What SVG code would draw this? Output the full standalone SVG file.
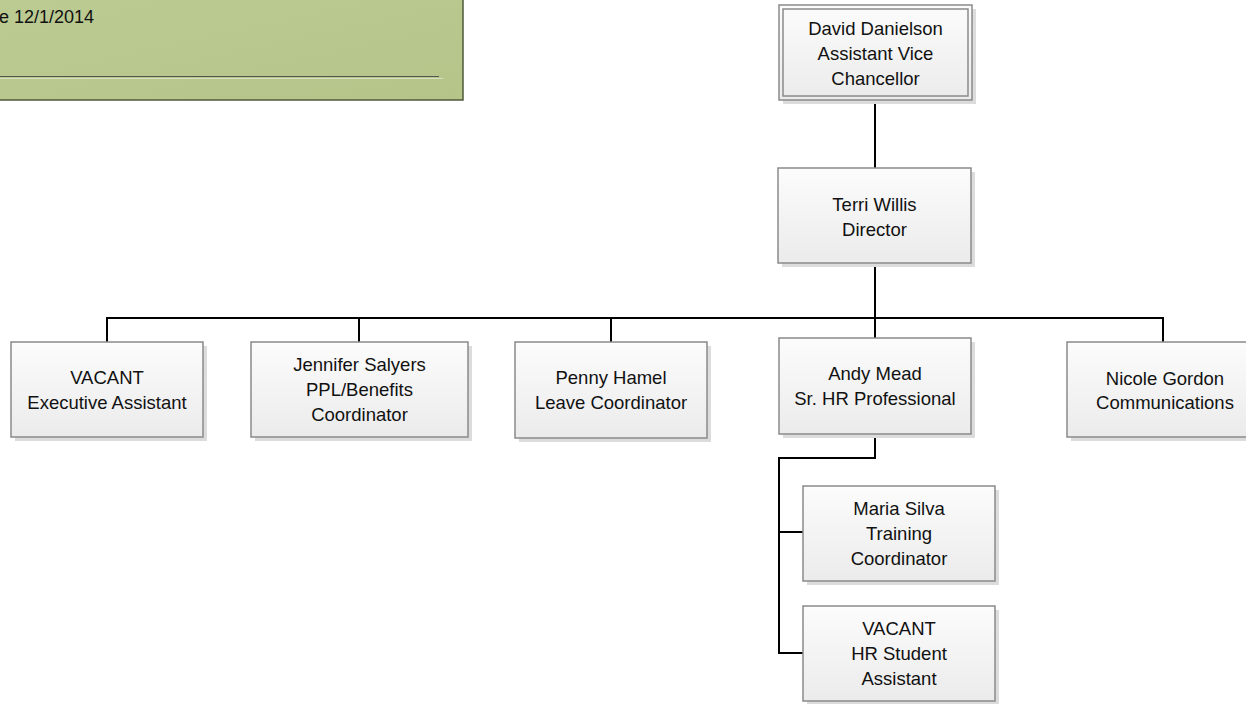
<svg xmlns="http://www.w3.org/2000/svg" width="1246" height="704" viewBox="0 0 1246 704">
<defs>
<linearGradient id="boxg" x1="0" y1="0" x2="0" y2="1">
<stop offset="0" stop-color="#fcfcfc"/>
<stop offset="1" stop-color="#ebebeb"/>
</linearGradient>
<linearGradient id="greeng" x1="0" y1="0" x2="1" y2="1">
<stop offset="0" stop-color="#bccb92"/>
<stop offset="1" stop-color="#b5c489"/>
</linearGradient>
</defs>
<style>
.box{fill:url(#boxg);stroke:#8a8a8a;stroke-width:1.5}
.shadow{fill:#dcdcdc}
.t{font-family:"Liberation Sans",Arial,sans-serif;font-size:18.5px;fill:#111;text-anchor:middle}
.c{fill:none;stroke:#000;stroke-width:2}
</style>
<rect width="1246" height="704" fill="#ffffff"/>
<g id="header">
<rect x="-2" y="-2" width="465" height="102" fill="url(#greeng)" stroke="#4f5a3a" stroke-width="1.5"/>
<line x1="0" y1="76.5" x2="439" y2="76.5" stroke="#555" stroke-width="1"/>
<line x1="0" y1="78.5" x2="443" y2="78.5" stroke="#d6dfbb" stroke-width="1"/>
<text x="-1" y="23" style="font-family:'Liberation Sans',Arial,sans-serif;font-size:18px;fill:#111">e 12/1/2014</text>
</g>
<g id="connectors">
<line class="c" x1="875" y1="100" x2="875" y2="168"/>
<line class="c" x1="875" y1="263" x2="875" y2="338"/>
<polyline class="c" points="107,342 107,318 1163,318 1163,342"/>
<line class="c" x1="359" y1="318" x2="359" y2="342"/>
<line class="c" x1="611" y1="318" x2="611" y2="342"/>
<polyline class="c" points="875,434 875,458 779,458 779,653 803,653"/>
<line class="c" x1="779" y1="532" x2="803" y2="532"/>
</g>
<g id="david">
<rect class="shadow" x="783" y="9" width="193" height="95"/>
<rect class="box" x="779" y="5" width="193" height="95"/>
<rect x="783" y="9" width="185" height="87" fill="none" stroke="#8a8a8a" stroke-width="1.5"/>
<text class="t" x="875.5" y="35">David Danielson</text>
<text class="t" x="875.5" y="60">Assistant Vice</text>
<text class="t" x="875.5" y="85">Chancellor</text>
</g>
<g id="terri">
<rect class="shadow" x="782" y="172" width="193" height="95"/>
<rect class="box" x="778" y="168" width="193" height="95"/>
<text class="t" x="874.5" y="211">Terri Willis</text>
<text class="t" x="874.5" y="236">Director</text>
</g>
<g id="vacant-exec">
<rect class="shadow" x="15" y="346" width="192" height="95"/>
<rect class="box" x="11" y="342" width="192" height="95"/>
<text class="t" x="107" y="384">VACANT</text>
<text class="t" x="107" y="409">Executive Assistant</text>
</g>
<g id="jennifer">
<rect class="shadow" x="255" y="346" width="217" height="95"/>
<rect class="box" x="251" y="342" width="217" height="95"/>
<text class="t" x="359.5" y="371">Jennifer Salyers</text>
<text class="t" x="359.5" y="396">PPL/Benefits</text>
<text class="t" x="359.5" y="421">Coordinator</text>
</g>
<g id="penny">
<rect class="shadow" x="519" y="346" width="192" height="96"/>
<rect class="box" x="515" y="342" width="192" height="96"/>
<text class="t" x="611" y="384">Penny Hamel</text>
<text class="t" x="611" y="409">Leave Coordinator</text>
</g>
<g id="andy">
<rect class="shadow" x="783" y="342" width="192" height="96"/>
<rect class="box" x="779" y="338" width="192" height="96"/>
<text class="t" x="875" y="380">Andy Mead</text>
<text class="t" x="875" y="405">Sr. HR Professional</text>
</g>
<g id="nicole">
<rect class="shadow" x="1071" y="346" width="180" height="95"/>
<rect class="box" x="1067" y="342" width="180" height="95"/>
<text class="t" x="1165" y="385">Nicole Gordon</text>
<text class="t" x="1165" y="409">Communications</text>
</g>
<g id="maria">
<rect class="shadow" x="807" y="490" width="192" height="95"/>
<rect class="box" x="803" y="486" width="192" height="95"/>
<text class="t" x="899" y="515">Maria Silva</text>
<text class="t" x="899" y="540">Training</text>
<text class="t" x="899" y="565">Coordinator</text>
</g>
<g id="vacant-hr">
<rect class="shadow" x="807" y="610" width="192" height="95"/>
<rect class="box" x="803" y="606" width="192" height="95"/>
<text class="t" x="899" y="635">VACANT</text>
<text class="t" x="899" y="660">HR Student</text>
<text class="t" x="899" y="685">Assistant</text>
</g>
</svg>
